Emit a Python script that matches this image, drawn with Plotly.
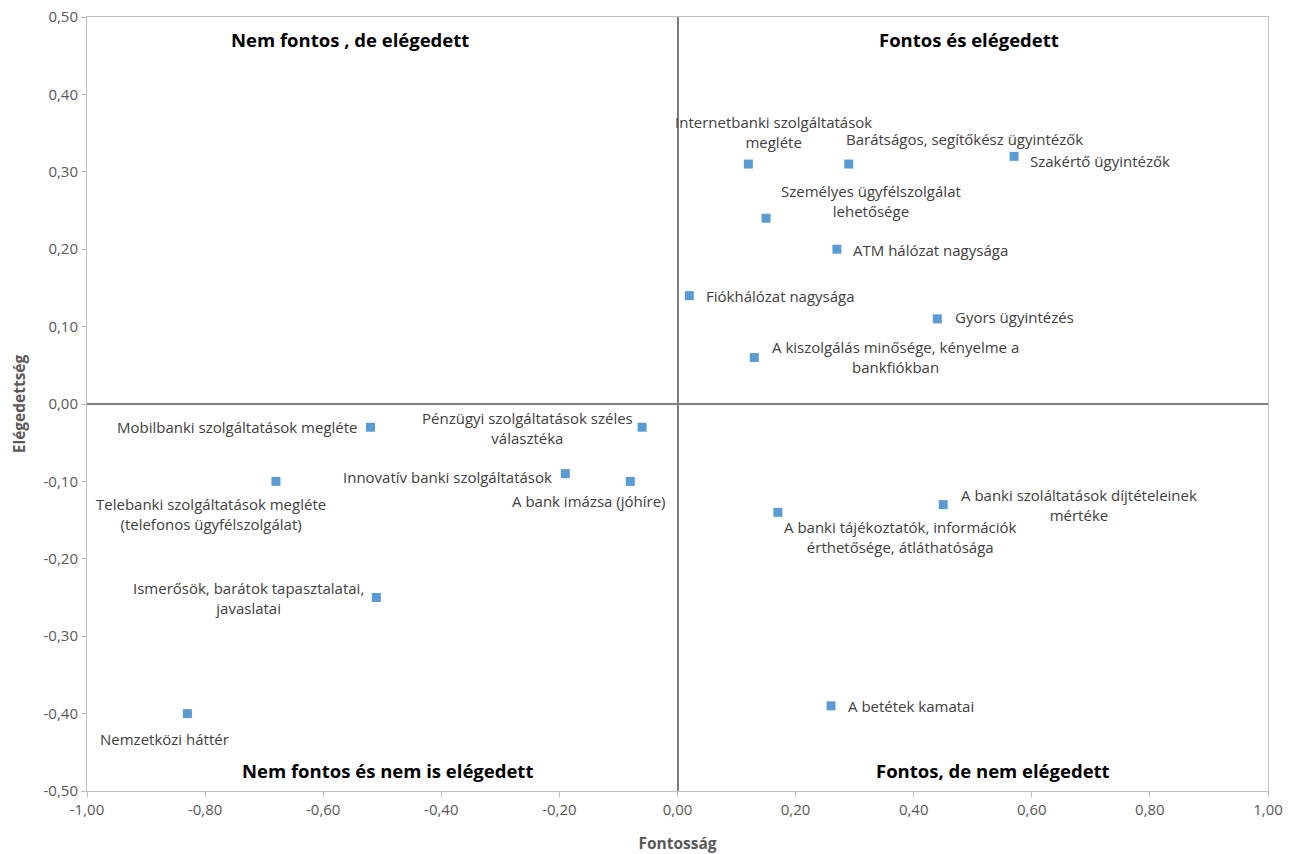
import plotly.graph_objects as go

# Importance (Fontosság) vs. satisfaction (Elégedettség) per bank attribute
labels = [
    "Internetbanki szolgáltatások<br>megléte",
    "Barátságos, segítőkész ügyintézők",
    "Szakértő ügyintézők",
    "Személyes ügyfélszolgálat<br>lehetősége",
    "ATM hálózat nagysága",
    "Fiókhálózat nagysága",
    "Gyors ügyintézés",
    "A kiszolgálás minősége, kényelme a<br>bankfiókban",
    "Mobilbanki szolgáltatások megléte",
    "Pénzügyi szolgáltatások széles<br>választéka",
    "Telebanki szolgáltatások megléte<br>(telefonos ügyfélszolgálat)",
    "Innovatív banki szolgáltatások",
    "A bank imázsa (jóhíre)",
    "Ismerősök, barátok tapasztalatai,<br>javaslatai",
    "Nemzetközi háttér",
    "A banki tájékoztatók, információk<br>érthetősége, átláthatósága",
    "A banki szoláltatások díjtételeinek<br>mértéke",
    "A betétek kamatai",
]
fontossag = [0.12, 0.29, 0.57, 0.15, 0.27, 0.02, 0.44, 0.13,
             -0.52, -0.06, -0.68, -0.19, -0.08, -0.51, -0.83,
             0.17, 0.45, 0.26]
elegedettseg = [0.31, 0.31, 0.32, 0.24, 0.20, 0.14, 0.11, 0.06,
                -0.03, -0.03, -0.10, -0.09, -0.10, -0.25, -0.40,
                -0.14, -0.13, -0.39]

quadrant_titles = ["Nem fontos , de elégedett", "Fontos és elégedett",
                   "Nem fontos és nem is elégedett", "Fontos, de nem elégedett"]

x_ticks = [-1.0, -0.8, -0.6, -0.4, -0.2, 0.0, 0.2, 0.4, 0.6, 0.8, 1.0]
x_tick_text = ["-1,00", "-0,80", "-0,60", "-0,40", "-0,20", "0,00",
               "0,20", "0,40", "0,60", "0,80", "1,00"]
y_ticks = [-0.5, -0.4, -0.3, -0.2, -0.1, 0.0, 0.1, 0.2, 0.3, 0.4, 0.5]
y_tick_text = ["-0,50", "-0,40", "-0,30", "-0,20", "-0,10", "0,00",
               "0,10", "0,20", "0,30", "0,40", "0,50"]

# label placement: (xanchor, yanchor, xshift, yshift)
placement = [
    ("center", "middle", 25, 32),
    ("left", "middle", -5, 25),
    ("left", "middle", 14, -5),
    ("left", "middle", 13, 17),
    ("left", "middle", 14, -1),
    ("left", "middle", 15, 0),
    ("left", "middle", 16, 2),
    ("left", "middle", 16, 1),
    ("right", "middle", -10, 0),
    ("right", "middle", -7, -1),
    ("center", "middle", -65, -33),
    ("right", "middle", -11, -3),
    ("center", "middle", -41, -20),
    ("right", "middle", -10, 0),
    ("center", "middle", -23, -25),
    ("left", "middle", 4, -25),
    ("left", "middle", 16, 0),
    ("left", "middle", 15, 0),
]
quadrant_pos = [(-0.555, 0.471), (0.494, 0.471), (-0.491, -0.474), (0.535, -0.474)]

FONT = "Open Sans"
GREY = "#595959"

fig = go.Figure()
fig.add_trace(go.Scatter(
    x=fontossag, y=elegedettseg, mode="markers",
    marker=dict(symbol="square", size=9, color="#5B9BD5"),
    hoverinfo="skip", showlegend=False,
))

annotations = []
for lab, xv, yv, (xa, ya, dx, dy) in zip(labels, fontossag, elegedettseg, placement):
    annotations.append(dict(
        x=xv, y=yv, xref="x", yref="y", text=lab, showarrow=False,
        xanchor=xa, yanchor=ya, xshift=dx, yshift=dy, align="center",
        font=dict(family=FONT, size=15, color="#404040"),
    ))
for title, (qx, qy) in zip(quadrant_titles, quadrant_pos):
    annotations.append(dict(
        x=qx, y=qy, xref="x", yref="y", text="<b>" + title + "</b>",
        showarrow=False, xanchor="center", yanchor="middle",
        font=dict(family=FONT, size=18.5, color="#000000"),
    ))

axis_common = dict(
    showgrid=False, showline=True, linecolor="#BFBFBF", linewidth=1,
    mirror=True, ticks="outside", tickcolor="#BFBFBF", ticklen=5,
    zeroline=True, zerolinecolor="#808080", zerolinewidth=1.5,
    tickfont=dict(family=FONT, size=15, color=GREY),
    automargin=False,
)

fig.update_layout(
    width=1300, height=854,
    margin=dict(l=87, r=32, t=17, b=63),
    plot_bgcolor="white", paper_bgcolor="white",
    annotations=annotations,
    xaxis=dict(
        range=[-1, 1], tickvals=x_ticks, ticktext=x_tick_text,
        title=dict(text="<b>Fontosság</b>", font=dict(family=FONT, size=15.5, color=GREY),
                   standoff=20),
        **axis_common,
    ),
    yaxis=dict(
        range=[-0.5, 0.5], tickvals=y_ticks, ticktext=y_tick_text,
        title=dict(text="<b>Elégedettség</b>", font=dict(family=FONT, size=15.5, color=GREY),
                   standoff=14),
        **axis_common,
    ),
)

fig.write_html("out.html")
